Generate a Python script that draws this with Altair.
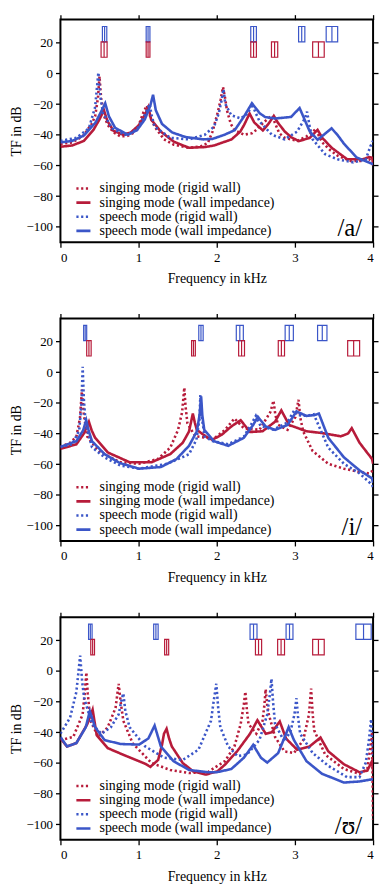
import altair as alt
import pandas as pd

RED = "#B71B3A"
BLUE = "#3B56C8"
FONT = "Liberation Serif"

SERIES = [
    "singing mode (rigid wall)",
    "singing mode (wall impedance)",
    "speech mode (rigid wall)",
    "speech mode (wall impedance)",
]
VOWELS = ["/a/", "/i/", "/ʊ/"]
X_TICKS = [0, 1, 2, 3, 4]
Y_TICKS = [-100, -80, -60, -40, -20, 0, 20]

# ---------------- /a/ ----------------
A_SING_RIGID = [(0, -46), (0.15, -45), (0.285, -41), (0.40, -33), (0.444, -28), (0.48, -16), (0.50, -2),
                (0.52, -16), (0.56, -28), (0.605, -33.6), (0.68, -38.5), (0.765, -41), (0.85, -41), (0.925, -39),
                (1.0, -34), (1.065, -25), (1.105, -21), (1.14, -27), (1.205, -34.7), (1.325, -43), (1.45, -46.5),
                (1.645, -48.5), (1.8, -47.5), (1.886, -45.3), (1.946, -38), (2.02, -24), (2.05, -17), (2.08, -9),
                (2.11, -17), (2.13, -24), (2.18, -33), (2.226, -36.8), (2.346, -40), (2.45, -39), (2.507, -36.8),
                (2.60, -32), (2.68, -28.5), (2.71, -28), (2.75, -33), (2.80, -39), (2.87, -42), (3.03, -44),
                (3.15, -41), (3.23, -38), (3.27, -36), (3.30, -40), (3.35, -45), (3.45, -50), (3.55, -53.8),
                (3.71, -57), (3.85, -57), (3.95, -56), (4.0, -58)]
A_SING_WALL = [(0, -47.8), (0.15, -47), (0.30, -44), (0.42, -37), (0.50, -30), (0.556, -24), (0.60, -31),
               (0.68, -37.5), (0.805, -40), (0.90, -38.5), (1.0, -34), (1.08, -27), (1.125, -22), (1.16, -30),
               (1.285, -38), (1.45, -44.5), (1.645, -48.5), (1.85, -48), (1.966, -47), (2.19, -43), (2.30, -38),
               (2.35, -33.6), (2.42, -26.2), (2.48, -32), (2.59, -37.2), (2.66, -33), (2.73, -27.7), (2.78, -32),
               (2.87, -37.9), (2.95, -41.5), (3.05, -44.2), (3.19, -42), (3.29, -36.8), (3.35, -42), (3.47, -48.5),
               (3.67, -56), (3.87, -56), (3.95, -54.5), (3.99, -55), (4.0, -60)]
A_SPEECH_RIGID = [(0, -44), (0.204, -42), (0.364, -35.8), (0.444, -22), (0.485, 0.5), (0.51, -15), (0.545, -26),
                  (0.665, -36), (0.825, -40), (0.92, -38.5), (1.005, -34.7), (1.08, -27), (1.14, -20), (1.17, -28),
                  (1.205, -34.7), (1.405, -42), (1.645, -43), (1.846, -40), (1.966, -34.7), (2.026, -26),
                  (2.06, -18), (2.086, -10.4), (2.11, -20), (2.186, -27.3), (2.306, -29.4), (2.40, -26),
                  (2.45, -20), (2.50, -26), (2.55, -31.5), (2.706, -40), (2.867, -43), (3.027, -38),
                  (3.127, -29.4), (3.155, -25), (3.19, -35), (3.227, -43), (3.387, -52.7), (3.547, -56),
                  (3.748, -58), (3.907, -56), (3.967, -47.4), (4.0, -44)]
A_SPEECH_WALL = [(0, -45), (0.15, -44), (0.30, -40.5), (0.45, -32), (0.53, -24), (0.573, -19.5), (0.62, -28),
                 (0.70, -35.5), (0.865, -40), (0.98, -37), (1.08, -30), (1.15, -21), (1.185, -14), (1.22, -24),
                 (1.30, -33), (1.43, -38.5), (1.60, -41.5), (1.83, -43), (1.946, -42.7), (2.10, -40), (2.23, -37),
                 (2.35, -28), (2.45, -19.5), (2.55, -26), (2.62, -28.5), (2.75, -29.4), (2.95, -28.4),
                 (3.06, -22.6), (3.19, -37.9), (3.29, -43.2), (3.37, -40), (3.47, -35.8), (3.55, -40.5),
                 (3.63, -46), (3.79, -54.8), (3.99, -59), (4.0, -59)]

# ---------------- /i/ ----------------
I_SING_RIGID = [(0, -48.7), (0.124, -46), (0.204, -42), (0.25, -30), (0.276, -11.2), (0.30, -28), (0.344, -42),
                (0.485, -51.3), (0.765, -58.7), (1.005, -59.7), (1.245, -56.6), (1.405, -49.2), (1.505, -37.6),
                (1.557, -26), (1.585, -10.1), (1.60, -22), (1.625, -33.4), (1.725, -41.8), (1.886, -42.8),
                (1.946, -44), (2.106, -37.6), (2.226, -30.2), (2.346, -36.5), (2.546, -37.6), (2.686, -26),
                (2.726, -18.6), (2.75, -28), (2.786, -34.4), (2.906, -37.6), (3.006, -29.2), (3.046, -18),
                (3.07, -30), (3.106, -38.6), (3.226, -51.3), (3.427, -59.7), (3.627, -62.9), (3.827, -65),
                (3.95, -66), (4.0, -64)]
I_SING_WALL = [(0, -50), (0.204, -47), (0.30, -40), (0.364, -32.3), (0.40, -38), (0.444, -42.8), (0.605, -52.3),
               (0.885, -58.7), (1.165, -58.7), (1.405, -53.4), (1.565, -46), (1.645, -38.7), (1.694, -27),
               (1.72, -33), (1.745, -37.6), (1.886, -42.8), (1.946, -44), (2.066, -40.7), (2.186, -35.4),
               (2.306, -31.3), (2.426, -39), (2.586, -38.5), (2.746, -32.3), (2.826, -24.9), (2.926, -34.4),
               (3.147, -38.5), (3.347, -39.7), (3.587, -41.8), (3.68, -40), (3.727, -36.5), (3.827, -46),
               (3.987, -56.6), (4.0, -59.7)]
I_SPEECH_RIGID = [(0, -48.7), (0.15, -47), (0.24, -38), (0.27, -20), (0.284, 3.5), (0.30, -18), (0.324, -34.4),
                  (0.404, -49), (0.565, -55.5), (0.765, -60.8), (1.005, -62.9), (1.365, -59.7), (1.645, -53.5),
                  (1.74, -44), (1.78, -30), (1.79, -15), (1.81, -30), (1.845, -42), (1.946, -44.9),
                  (2.146, -47), (2.346, -42), (2.44, -34), (2.50, -28.5), (2.56, -35), (2.72, -37.5),
                  (2.90, -33), (2.99, -25), (3.04, -28), (3.15, -28.5), (3.24, -27.5), (3.28, -32),
                  (3.427, -49.2), (3.627, -59.7), (3.827, -66), (3.987, -73.4), (4.0, -75)]
I_SPEECH_WALL = [(0, -48.7), (0.204, -45), (0.29, -38), (0.33, -31.3), (0.36, -38), (0.404, -45), (0.565, -53.4),
                 (0.765, -59.3), (1.005, -62.9), (1.285, -61.8), (1.485, -56.6), (1.645, -48), (1.745, -38.6),
                 (1.78, -28), (1.80, -15.8), (1.815, -28), (1.84, -37.6), (1.965, -45), (2.146, -48),
                 (2.346, -42.8), (2.466, -34.4), (2.526, -29.1), (2.626, -35.4), (2.746, -37.6), (2.906, -34.4),
                 (3.02, -25.6), (3.147, -28.5), (3.25, -28), (3.307, -27), (3.427, -42.8), (3.627, -55.5),
                 (3.827, -64), (3.987, -69.2), (4.0, -72)]

# ---------------- /ʊ/ ----------------
U_SING_RIGID = [(0, -45), (0.164, -43), (0.284, -28.3), (0.31, -15), (0.332, -1), (0.35, -15), (0.384, -32.5),
                (0.485, -43), (0.605, -36.7), (0.705, -24.1), (0.745, -8.4), (0.77, -20), (0.805, -32.5),
                (0.925, -47.2), (1.165, -60), (1.405, -64.5), (1.645, -66.5), (1.886, -66), (1.946, -63.9),
                (2.106, -58.7), (2.226, -49.2), (2.306, -34.6), (2.346, -22), (2.366, -13.6), (2.385, -25),
                (2.406, -34.6), (2.506, -40.9), (2.586, -32.5), (2.61, -22), (2.626, -11.9), (2.645, -22),
                (2.666, -28.3), (2.746, -43), (2.866, -52.4), (2.987, -53.5), (3.107, -45), (3.18, -28.3),
                (3.207, -11.5), (3.227, -28), (3.247, -38.8), (3.387, -54.5), (3.627, -63.9), (3.827, -67),
                (3.927, -64), (3.967, -49), (3.987, -40), (4.0, -97)]
U_SING_WALL = [(0, -44), (0.084, -49.2), (0.204, -47), (0.344, -34.6), (0.412, -25.2), (0.464, -41.9),
               (0.605, -50.3), (0.845, -55.5), (1.085, -60.5), (1.15, -62.5), (1.25, -58), (1.30, -48),
               (1.325, -40.9), (1.358, -37.7), (1.39, -44), (1.425, -49.2), (1.565, -60), (1.7, -65.5),
               (1.86, -67.5), (2.006, -65.5), (2.106, -61), (2.266, -52), (2.426, -40.9), (2.52, -32.1),
               (2.626, -40.9), (2.706, -39.9), (2.806, -32.9), (2.886, -44), (3.027, -51.3), (3.187, -49.2),
               (3.327, -43.4), (3.427, -52.4), (3.627, -60.8), (3.827, -66), (3.927, -64.9), (3.987, -58.7),
               (4.0, -65)]
U_SPEECH_RIGID = [(0, -40.9), (0.124, -30.4), (0.204, -13.6), (0.252, 9.9), (0.28, -8), (0.304, -17.8),
                  (0.404, -34.6), (0.525, -40.9), (0.645, -36.7), (0.745, -28.3), (0.785, -18), (0.805, -14.7),
                  (0.83, -26), (0.885, -36.7), (1.085, -49.2), (1.325, -56.5), (1.565, -58), (1.766, -51.3),
                  (1.926, -32.5), (1.96, -20), (1.994, -8.4), (2.02, -25), (2.046, -36.7), (2.146, -49.2),
                  (2.266, -55.5), (2.386, -54.5), (2.546, -45), (2.646, -28.3), (2.68, -15), (2.70, -5.2),
                  (2.72, -20), (2.746, -34.6), (2.866, -46.1), (2.946, -39), (2.994, -28.3), (3.02, -17.8),
                  (3.04, -30), (3.067, -40.9), (3.227, -53.5), (3.427, -61.8), (3.667, -69.2), (3.827, -69.2),
                  (3.907, -59.7), (3.947, -45), (3.975, -31.4), (4.0, -55)]
U_SPEECH_WALL = [(0, -43), (0.084, -49.2), (0.204, -47), (0.324, -36.7), (0.376, -26.2), (0.444, -36.7),
                 (0.565, -45), (0.765, -47.6), (1.005, -48), (1.125, -44), (1.205, -35.6), (1.285, -49.2),
                 (1.445, -58.7), (1.645, -64.5), (1.886, -66), (2.0, -66), (2.186, -63.9), (2.346, -56.6),
                 (2.466, -48.2), (2.566, -56.6), (2.646, -59.7), (2.786, -53.5), (2.92, -36.7), (2.987, -45),
                 (3.147, -58.7), (3.347, -67), (3.627, -72.7), (3.827, -72), (3.987, -70.6), (4.0, -70.5)]

# formant bandwidth boxes: (low kHz, high kHz)
A_SPEECH_BOXES = [(0.537, 0.593), (1.097, 1.145), (2.435, 2.507), (3.047, 3.127), (3.40, 3.547)]
A_SING_BOXES = [(0.52, 0.597), (1.097, 1.145), (2.435, 2.507), (2.70, 2.78), (3.227, 3.375)]
I_SPEECH_BOXES = [(0.297, 0.336), (1.77, 1.826), (2.25, 2.34), (2.875, 2.98), (3.29, 3.41)]
I_SING_BOXES = [(0.336, 0.393), (1.678, 1.726), (2.28, 2.355), (2.787, 2.867), (3.675, 3.828)]
U_SPEECH_BOXES = [(0.36, 0.405), (1.193, 1.25), (2.426, 2.515), (2.887, 2.975), (3.78, 3.976)]
U_SING_BOXES = [(0.388, 0.436), (1.333, 1.385), (2.495, 2.574), (2.779, 2.867), (3.227, 3.375)]

W = 316
H = 225
ROWS = {"speech": (20.5, 30.5), "singing": (10.5, 20.5)}
LEGEND_Y = [-75, -84.2, -93.4, -102.6]   # legend row positions (dB)
LEGEND_X = (0.204, 0.384, 0.50)          # symbol start/end, label start (kHz)

xscale = alt.Scale(domain=[0, 4], nice=False, zero=False)
yscale = alt.Scale(domain=[-110, 35], nice=False, zero=False)
color_scale = alt.Scale(domain=SERIES, range=[RED, RED, BLUE, BLUE])
dash_scale = alt.Scale(domain=SERIES, range=[[2.2, 2.6], [1, 0], [2.2, 2.6], [1, 0]])
row_scale = alt.Scale(domain=["speech", "singing"], range=[BLUE, RED])


def make_panel(curves, speech_boxes, sing_boxes, vowel):
    rows = []
    for name, pts in zip(SERIES, curves):
        for f, db in pts:
            rows.append({"series": name, "f": f, "db": db})
    ldf = pd.DataFrame(rows)

    brows = []
    for row, boxes in (("speech", speech_boxes), ("singing", sing_boxes)):
        lo_y, hi_y = ROWS[row]
        for lo, hi in boxes:
            brows.append({"row": row, "lo": lo, "hi": hi, "mid": (lo + hi) / 2, "y0": lo_y, "y1": hi_y})
    bdf = pd.DataFrame(brows)

    gdf = pd.DataFrame({"series": SERIES, "y": LEGEND_Y,
                        "x0": [LEGEND_X[0]] * 4, "x1": [LEGEND_X[1]] * 4, "xt": [LEGEND_X[2]] * 4})

    lines = alt.Chart(ldf).mark_line(clip=True, strokeWidth=2.6, strokeCap="butt").encode(
        x=alt.X("f:Q", scale=xscale, axis=alt.Axis(values=X_TICKS, orient="bottom", title="Frequency in kHz",
                                                    format="d", labelPadding=4, titlePadding=8)),
        y=alt.Y("db:Q", scale=yscale, axis=alt.Axis(values=Y_TICKS, orient="left", title="TF in dB",
                                                     labelPadding=3, titlePadding=3)),
        color=alt.Color("series:N", scale=color_scale, legend=None),
        strokeDash=alt.StrokeDash("series:N", scale=dash_scale, legend=None),
    )

    rects = alt.Chart(bdf).mark_rect(fill="white", fillOpacity=0.0, strokeWidth=1.2).encode(
        x=alt.X("lo:Q", scale=xscale, axis=alt.Axis(values=X_TICKS, orient="top", labels=False, title="")),
        x2="hi:Q",
        y=alt.Y("y0:Q", scale=yscale, axis=alt.Axis(values=Y_TICKS, orient="right", labels=False, title="")),
        y2="y1:Q",
        stroke=alt.Stroke("row:N", scale=row_scale, legend=None),
    )
    mids = alt.Chart(bdf).mark_rule(strokeWidth=1.2).encode(
        x=alt.X("mid:Q", scale=xscale, axis=None),
        y=alt.Y("y0:Q", scale=yscale, axis=None),
        y2="y1:Q",
        stroke=alt.Stroke("row:N", scale=row_scale, legend=None),
    )
    leg_sym = alt.Chart(gdf).mark_rule(strokeWidth=2.6, strokeCap="butt").encode(
        x=alt.X("x0:Q", scale=xscale, axis=None),
        x2="x1:Q",
        y=alt.Y("y:Q", scale=yscale, axis=None),
        color=alt.Color("series:N", scale=color_scale, legend=None),
        strokeDash=alt.StrokeDash("series:N", scale=dash_scale, legend=None),
    )
    leg_txt = alt.Chart(gdf).mark_text(align="left", baseline="middle", font=FONT, fontSize=14,
                                       color="black").encode(
        x=alt.X("xt:Q", scale=xscale, axis=None),
        y=alt.Y("y:Q", scale=yscale, axis=None),
        text="series:N",
    )
    label = alt.Chart(pd.DataFrame({"v": [vowel]})).mark_text(
        align="right", baseline="middle", font=FONT, fontSize=25, color="black").encode(
        x=alt.X(datum=3.86, scale=xscale, axis=None),
        y=alt.Y(datum=-101, scale=yscale, axis=None),
        text="v:N",
    )
    return alt.layer(lines, rects, mids, leg_sym, leg_txt, label).resolve_axis(
        x="independent", y="independent").properties(width=W, height=H)


p1 = make_panel([A_SING_RIGID, A_SING_WALL, A_SPEECH_RIGID, A_SPEECH_WALL], A_SPEECH_BOXES, A_SING_BOXES, VOWELS[0])
p2 = make_panel([I_SING_RIGID, I_SING_WALL, I_SPEECH_RIGID, I_SPEECH_WALL], I_SPEECH_BOXES, I_SING_BOXES, VOWELS[1])
p3 = make_panel([U_SING_RIGID, U_SING_WALL, U_SPEECH_RIGID, U_SPEECH_WALL], U_SPEECH_BOXES, U_SING_BOXES, VOWELS[2])

chart = alt.vconcat(p1, p2, p3, spacing=25).properties(padding=0).configure_view(
    stroke="black", strokeWidth=2
).configure_axis(
    grid=False, domain=False, tickColor="black", tickWidth=1.3, tickSize=5,
    labelFont=FONT, labelFontSize=13, labelColor="black",
    titleFont=FONT, titleFontSize=14, titleFontWeight="normal", titleColor="black",
)

chart.save("out.html", embed_options={"renderer": "svg", "actions": False})
